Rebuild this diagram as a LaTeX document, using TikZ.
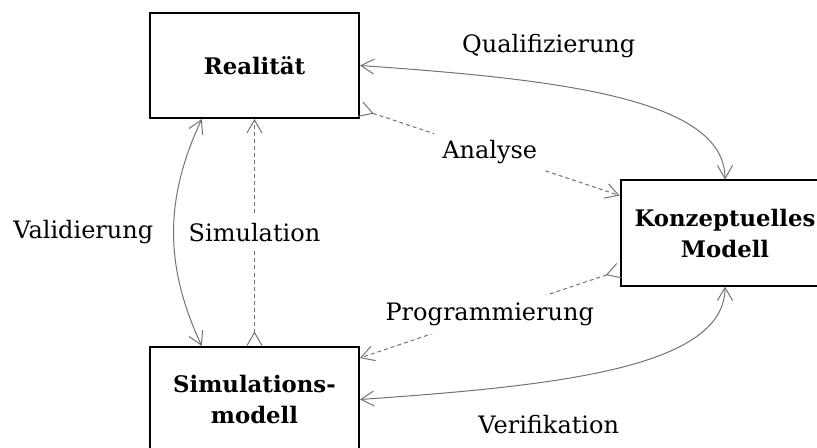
\documentclass[tikz,border=0pt]{standalone}
\usepackage{fontspec}
\setmainfont{DejaVu Serif}
\usetikzlibrary{arrows.meta,calc}

\tikzset{
  block/.style={draw, line width=1pt, minimum width=104.5pt, minimum height=52.5pt, align=center, font=\fontsize{11.4}{15.5}\selectfont\bfseries},
  conn/.style={draw=black!55, line width=0.5pt},
  dashconn/.style={conn, dash pattern=on 2pt off 1.5pt},
  >={Straight Barb[length=6.5pt,width=7.5pt]}
}

\begin{document}
\fontsize{12}{15.5}\selectfont
\begin{tikzpicture}[x=0.5pt,y=-0.5pt]
	\useasboundingbox (0,0) rectangle (817,448);
	\clip (0,0) rectangle (817,448);
	\node[block] (real) at (254.5,65.5) {Realität};
	\node[block] (konz) at (725,233) {Konzeptuelles\\Modell};
	\node[block] (sim) at (254.5,399.5) {Simulations-\\modell};

	\draw[conn,<->] (real.east) to[out=-4,in=90,out looseness=1.3,in looseness=0.55] node[pos=0.35,above=9pt] {Qualifizierung} (konz.north);
	\draw[conn,<->] (sim.east) to[out=4,in=-90,out looseness=1.3,in looseness=0.55] node[pos=0.35,below=12.5pt] {Verifikation} (konz.south);
	\draw[conn,<->] ($(real.south west)!.25!(real.south east)$) to[bend right=25] node[left=6pt] {Validierung} ($(sim.north west)!.25!(sim.north east)$);
	\draw[dashconn,>->] (sim.north) -- node[fill=white] {Simulation} (real.south);
	\draw[dashconn,>->] ([yshift=5pt]real.south east) -- node[fill=white] {Analyse} ([yshift=-8pt]konz.north west);
	\draw[dashconn,>->] ([yshift=8pt]konz.south west) -- node[fill=white] {Programmierung} ([yshift=-6pt]sim.north east);
\end{tikzpicture}
\end{document}
